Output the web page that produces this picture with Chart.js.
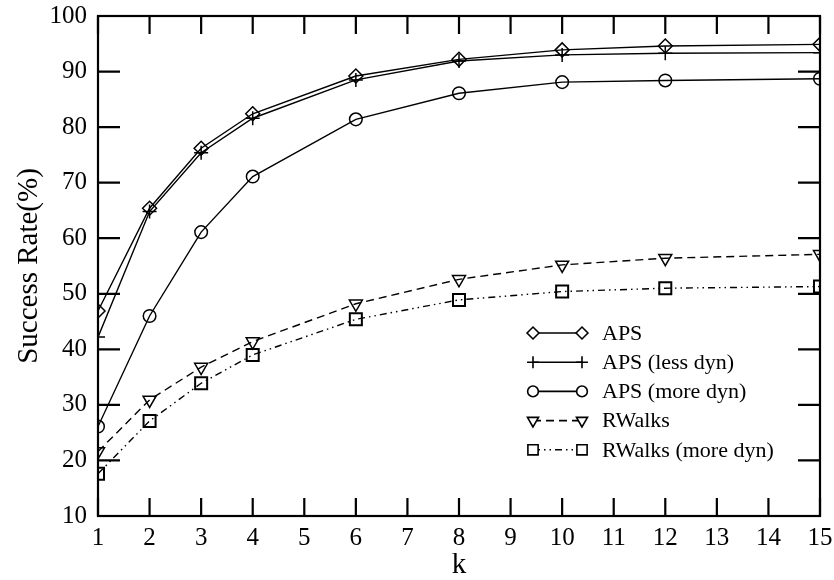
<!DOCTYPE html>
<html lang="en">
<head>
    <meta charset="UTF-8">
    <title>Success Rate vs k</title>
    <script src="https://cdn.jsdelivr.net/npm/chart.js@4.4.0/dist/chart.umd.min.js"></script>
    <style>
        html, body { margin: 0; padding: 0; background: #fff; }
        #wrap { width: 834px; height: 580px; }
    </style>
</head>
<body>
<div id="wrap"><canvas id="lineChart" width="834" height="580"></canvas></div>
<script>
    // datos
    const kValues = [1, 2, 3, 4, 6, 8, 10, 12, 15];
    const aps = [46.9, 65.4, 76.2, 82.4, 89.2, 92.2, 93.9, 94.6, 94.9];
    const apsLessDyn = [42.2, 64.8, 75.4, 81.6, 88.5, 91.9, 93.0, 93.3, 93.4];
    const apsMoreDyn = [26.1, 46.0, 61.1, 71.1, 81.4, 86.1, 88.1, 88.4, 88.7];
    const rwalks = [21.6, 30.9, 36.8, 41.4, 48.2, 52.6, 55.2, 56.4, 57.1];
    const rwalksMoreDyn = [17.6, 27.1, 33.9, 39.0, 45.4, 48.9, 50.4, 51.0, 51.3];
    const xTicks = [1, 2, 3, 4, 5, 6, 7, 8, 9, 10, 11, 12, 13, 14, 15];
    const yTicks = [10, 20, 30, 40, 50, 60, 70, 80, 90, 100];

    const FONT = '"Liberation Serif", "Times New Roman", serif';

    function pts(ys) {
        return kValues.map((k, i) => ({ x: k, y: ys[i] }));
    }

    const series = [
        { label: 'APS', data: aps, style: 'rectRot', radius: 7, rotation: 0, dash: [] },
        { label: 'APS (less dyn)', data: apsLessDyn, style: 'cross', radius: 7, rotation: 0, dash: [] },
        { label: 'APS (more dyn)', data: apsMoreDyn, style: 'circle', radius: 6.3, rotation: 0, dash: [] },
        { label: 'RWalks', data: rwalks, style: 'triangle', radius: 7.5, rotation: 180, dash: [8, 5] },
        { label: 'RWalks (more dyn)', data: rwalksMoreDyn, style: 'rect', radius: 8.5, rotation: 0, dash: [7, 4, 1.5, 4, 1.5, 4] }
    ];

    // marco y marcas hacia adentro
    const framePlugin = {
        id: 'frame',
        afterDatasetsDraw(chart) {
            const { ctx, chartArea: a, scales } = chart;
            ctx.save();
            ctx.strokeStyle = '#000';
            ctx.lineWidth = 2.2;
            ctx.setLineDash([]);
            ctx.strokeRect(a.left, a.top, a.right - a.left, a.bottom - a.top);
            ctx.beginPath();
            xTicks.forEach(v => {
                const px = scales.x.getPixelForValue(v);
                ctx.moveTo(px, a.bottom); ctx.lineTo(px, a.bottom - 18);
                ctx.moveTo(px, a.top); ctx.lineTo(px, a.top + 18);
            });
            yTicks.forEach(v => {
                const py = scales.y.getPixelForValue(v);
                ctx.moveTo(a.left, py); ctx.lineTo(a.left + 22, py);
                ctx.moveTo(a.right, py); ctx.lineTo(a.right - 22, py);
            });
            ctx.stroke();
            ctx.restore();
        }
    };

    // leyenda con linea y marcador en ambos extremos
    const legendPlugin = {
        id: 'customLegend',
        afterDraw(chart) {
            const ctx = chart.ctx;
            const x0 = 533, x1 = 582, tx = 602, y0 = 333, dy = 29.2;
            ctx.save();
            series.forEach((s, i) => {
                const y = y0 + i * dy;
                ctx.strokeStyle = '#000';
                ctx.lineWidth = 1.6;
                ctx.setLineDash(s.dash);
                ctx.beginPath();
                ctx.moveTo(x0, y); ctx.lineTo(x1, y);
                ctx.stroke();
                ctx.setLineDash([]);
                const opt = { pointStyle: s.style, radius: s.radius * 0.85, rotation: s.rotation, borderWidth: 1.6 };
                ctx.fillStyle = '#fff';
                Chart.helpers.drawPoint(ctx, opt, x0, y);
                Chart.helpers.drawPoint(ctx, opt, x1, y);
                ctx.fillStyle = '#000';
                ctx.font = '22px ' + FONT;
                ctx.textBaseline = 'middle';
                ctx.textAlign = 'left';
                ctx.fillText(s.label, tx, y + 1);
            });
            ctx.restore();
        }
    };

    document.addEventListener('DOMContentLoaded', function() {
        const ctx = document.getElementById('lineChart').getContext('2d');
        new Chart(ctx, {
            type: 'line',
            data: {
                datasets: series.map(s => ({
                    label: s.label,
                    data: pts(s.data),
                    borderColor: '#000',
                    borderWidth: 1.4,
                    borderDash: s.dash,
                    backgroundColor: '#fff',
                    pointStyle: s.style,
                    pointRadius: s.radius,
                    pointRotation: s.rotation,
                    pointBorderColor: '#000',
                    pointBackgroundColor: 'rgba(255,255,255,0)',
                    pointBorderWidth: s.style === 'rect' ? 2 : 1.5,
                    fill: false,
                    tension: 0
                }))
            },
            options: {
                responsive: false,
                animation: false,
                events: [],
                layout: { padding: { top: 16, right: 14, left: 0, bottom: 0 } },
                plugins: {
                    legend: { display: false },
                    tooltip: { enabled: false }
                },
                scales: {
                    x: {
                        type: 'linear',
                        min: 1,
                        max: 15,
                        afterFit(scale) {
                            scale.height = 64;
                            scale.paddingLeft = 0;
                            scale.paddingRight = 0;
                        },
                        afterBuildTicks(scale) { scale.ticks = xTicks.map(v => ({ value: v })); },
                        grid: { display: false, drawTicks: false },
                        border: { display: false },
                        ticks: { color: '#000', padding: 7, font: { family: FONT, size: 25 } },
                        title: { display: true, text: 'k', color: '#000', padding: { top: 0, bottom: -3 }, font: { family: FONT, size: 29 } }
                    },
                    y: {
                        min: 10,
                        max: 100,
                        afterFit(scale) {
                            scale.width = 98;
                            scale.paddingTop = 0;
                            scale.paddingBottom = 0;
                        },
                        afterBuildTicks(scale) { scale.ticks = yTicks.map(v => ({ value: v })); },
                        grid: { display: false, drawTicks: false },
                        border: { display: false },
                        ticks: { color: '#000', padding: 11, font: { family: FONT, size: 25 } },
                        title: { display: true, text: 'Success Rate(%)', color: '#000', padding: { top: 12, bottom: 0 }, font: { family: FONT, size: 29 } }
                    }
                }
            },
            plugins: [framePlugin, legendPlugin]
        });
    });
</script>
</body>
</html>
